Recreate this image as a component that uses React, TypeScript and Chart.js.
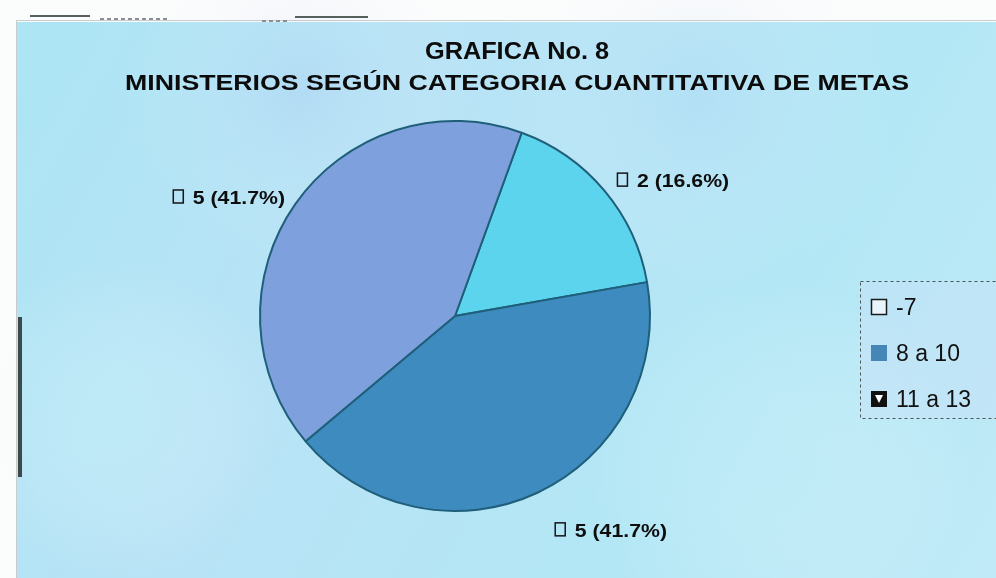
import React, { useEffect, useRef } from "react";
import { Chart, registerables } from "chart.js";

Chart.register(...registerables);

// ---- data ----
const TITLE_LINES = ["GRAFICA No. 8", "MINISTERIOS SEGÚN CATEGORIA CUANTITATIVA DE METAS"];
const CATEGORIES = ["-7", "8 a 10", "11 a 13"];
const MINISTRIES = [2, 5, 5];
const PERCENT_LABELS = ["16.6%", "41.7%", "41.7%"];

// ---- style ----
const SLICE_COLORS = ["#5cd4ee", "#3d8bbf", "#7ea1dd"];
const SLICE_BORDER = "#1f5f7a";
const LABEL_RADIUS = [1.084, 1.21, 1.064];
const FONT = '"Liberation Sans", Arial, Helvetica, sans-serif';

function stretchedText(ctx: CanvasRenderingContext2D, text: string, x: number, baseline: number, font: string, width: number, align: "left" | "center") {
  ctx.save();
  ctx.font = font;
  const w = ctx.measureText(text).width;
  const s = width / w;
  ctx.translate(x, baseline);
  ctx.scale(s, 1);
  ctx.textAlign = align;
  ctx.textBaseline = "alphabetic";
  ctx.fillText(text, 0, 0);
  ctx.restore();
}

const backgroundPlugin = {
  id: "bgPanel",
  beforeDraw(chart: any) {
    const ctx: CanvasRenderingContext2D = chart.ctx;
    const W = chart.width;
    const H = chart.height;
    ctx.save();
    ctx.fillStyle = "#fbfcfc";
    ctx.fillRect(0, 0, W, H);
    const g = ctx.createLinearGradient(17, 22, W, H);
    g.addColorStop(0, "#ace5f4");
    g.addColorStop(0.35, "#b8e3f6");
    g.addColorStop(0.7, "#b3e7f5");
    g.addColorStop(1, "#c0eaf7");
    ctx.fillStyle = g;
    ctx.fillRect(17, 22, W - 17, H - 22);
    // soft mottled patches
    const patches: [number, number, number, string][] = [
      [300, 90, 180, "rgba(170,190,240,0.22)"],
      [700, 100, 200, "rgba(170,200,245,0.2)"],
      [120, 420, 160, "rgba(205,245,250,0.35)"],
      [780, 470, 190, "rgba(205,242,250,0.3)"],
    ];
    patches.forEach(([x, y, r, c]) => {
      const rg = ctx.createRadialGradient(x, y, 0, x, y, r);
      rg.addColorStop(0, c);
      rg.addColorStop(1, "rgba(255,255,255,0)");
      ctx.fillStyle = rg;
      ctx.fillRect(x - r, y - r, 2 * r, 2 * r);
    });
    // frame fragments
    ctx.strokeStyle = "#c8cccc";
    ctx.lineWidth = 1;
    ctx.beginPath();
    ctx.moveTo(16.5, 20);
    ctx.lineTo(16.5, H);
    ctx.moveTo(17, 20.5);
    ctx.lineTo(W, 20.5);
    ctx.stroke();
    ctx.strokeStyle = "#3c4a4c";
    ctx.lineWidth = 4;
    ctx.beginPath();
    ctx.moveTo(20, 317);
    ctx.lineTo(20, 477);
    ctx.stroke();
    ctx.lineWidth = 2;
    ctx.strokeStyle = "#55605f";
    ctx.beginPath();
    ctx.moveTo(30, 16);
    ctx.lineTo(90, 16);
    ctx.moveTo(295, 17);
    ctx.lineTo(368, 17);
    ctx.stroke();
    ctx.strokeStyle = "#8a9090";
    ctx.setLineDash([4, 3]);
    ctx.beginPath();
    ctx.moveTo(100, 19);
    ctx.lineTo(170, 19);
    ctx.moveTo(262, 21);
    ctx.lineTo(290, 21);
    ctx.stroke();
    ctx.restore();
  },
};

const titlePlugin = {
  id: "stretchTitle",
  afterDraw(chart: any) {
    const ctx: CanvasRenderingContext2D = chart.ctx;
    ctx.save();
    ctx.fillStyle = "#0c0c0c";
    stretchedText(ctx, TITLE_LINES[0], 517, 59, `bold 23px ${FONT}`, 184, "center");
    stretchedText(ctx, TITLE_LINES[1], 517, 90, `bold 22px ${FONT}`, 784, "center");
    ctx.restore();
  },
};

const sliceLabelPlugin = {
  id: "sliceLabels",
  afterDatasetsDraw(chart: any) {
    const ctx: CanvasRenderingContext2D = chart.ctx;
    const meta = chart.getDatasetMeta(0);
    const stretch = 1.12;
    meta.data.forEach((arc: any, i: number) => {
      const { x, y, startAngle, endAngle, outerRadius } = arc.getProps(
        ["x", "y", "startAngle", "endAngle", "outerRadius"],
        true
      );
      const mid = (startAngle + endAngle) / 2;
      const k = LABEL_RADIUS[i];
      const ax = x + Math.cos(mid) * outerRadius * k;
      const ay = y + Math.sin(mid) * outerRadius * k;
      const text = `${chart.data.datasets[0].data[i]} (${PERCENT_LABELS[i]})`;
      ctx.save();
      ctx.font = `bold 19px ${FONT}`;
      const tw = ctx.measureText(text).width * stretch;
      const groupW = 20 + tw;
      const left = Math.cos(mid) >= 0 ? ax : ax - groupW;
      ctx.strokeStyle = "#151515";
      ctx.lineWidth = 1.5;
      ctx.strokeRect(left + 0.5, ay - 7, 10, 13);
      ctx.fillStyle = "#0e0e0e";
      ctx.translate(left + 20, ay + 7);
      ctx.scale(stretch, 1);
      ctx.textBaseline = "alphabetic";
      ctx.textAlign = "left";
      ctx.fillText(text, 0, 0);
      ctx.restore();
    });
  },
};

const legendPlugin = {
  id: "sideLegend",
  afterDraw(chart: any) {
    const ctx: CanvasRenderingContext2D = chart.ctx;
    const labels: string[] = chart.data.labels;
    ctx.save();
    // legend frame
    ctx.fillStyle = "rgba(205,222,248,0.3)";
    ctx.fillRect(860, 281, 140, 137);
    ctx.strokeStyle = "#4d5656";
    ctx.lineWidth = 1;
    ctx.setLineDash([3, 3]);
    ctx.strokeRect(860.5, 281.5, 150, 137);
    ctx.setLineDash([]);
    const boxFills = ["#e9f4fb", "#4586b6", "#111111"];
    labels.forEach((lab, i) => {
      const base = 314 + i * 46;
      const bx = 871;
      const by = base - 15;
      ctx.fillStyle = boxFills[i];
      ctx.fillRect(bx, by, 16, 16);
      if (i === 0) {
        ctx.strokeStyle = "#1a1a1a";
        ctx.lineWidth = 1.5;
        ctx.strokeRect(bx + 0.5, by + 0.5, 15, 15);
      }
      if (i === 2) {
        ctx.fillStyle = "#ffffff";
        ctx.beginPath();
        ctx.moveTo(bx + 4, by + 4);
        ctx.lineTo(bx + 12, by + 4);
        ctx.lineTo(bx + 8, by + 12);
        ctx.closePath();
        ctx.fill();
      }
      ctx.fillStyle = "#111111";
      ctx.font = `23px ${FONT}`;
      ctx.textBaseline = "alphabetic";
      ctx.textAlign = "left";
      ctx.fillText(lab, 896, base + 1);
    });
    ctx.restore();
  },
};

export default function App() {
  const ref = useRef<HTMLCanvasElement | null>(null);
  useEffect(() => {
    document.body.style.margin = "0";
    const canvas = ref.current;
    if (!canvas) return;
    const chart = new Chart(canvas, {
      type: "pie",
      data: {
        labels: CATEGORIES,
        datasets: [
          {
            data: MINISTRIES,
            backgroundColor: SLICE_COLORS,
            borderColor: SLICE_BORDER,
            borderWidth: 2,
          },
        ],
      },
      options: {
        responsive: false,
        animation: false,
        devicePixelRatio: 1,
        rotation: 20,
        radius: 195,
        layout: { padding: { left: 40, right: 126, top: 104, bottom: 50 } },
        plugins: {
          legend: { display: false },
          title: { display: false },
          tooltip: { enabled: false },
        },
      } as any,
      plugins: [backgroundPlugin, sliceLabelPlugin, titlePlugin, legendPlugin],
    });
    return () => chart.destroy();
  }, []);
  return (
    <div style={{ position: "fixed", left: 0, top: 0, width: 996, height: 578 }}>
      <canvas ref={ref} width={996} height={578} style={{ width: 996, height: 578, display: "block" }} />
    </div>
  );
}
